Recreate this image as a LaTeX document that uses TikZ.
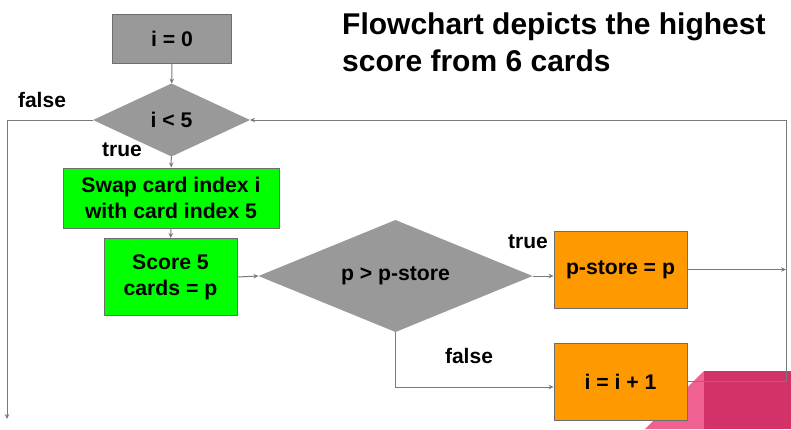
\documentclass[tikz,border=0pt]{standalone}
\usepackage{fontspec}
\setmainfont{Liberation Sans}
\usetikzlibrary{shapes.geometric,arrows.meta}
\definecolor{boxgray}{HTML}{999999}
\definecolor{boxgreen}{HTML}{00FF00}
\definecolor{boxorange}{HTML}{FF9900}
\definecolor{edgegray}{HTML}{6E6E6E}
\definecolor{linegray}{HTML}{7A7A7A}
\definecolor{pinkdark}{HTML}{D13369}
\definecolor{pinklight}{HTML}{EF6191}
\tikzset{
  boxbase/.style={draw=edgegray, line width=0.9pt, inner sep=0pt, font=\fontsize{21.2}{26}\selectfont\bfseries, align=center},
  procbox/.style={boxbase, rectangle},
  decbox/.style={boxbase, diamond, fill=boxgray, draw=none, outer sep=0pt},
  conn/.style={draw=linegray, line width=1pt},
  arr/.style={conn, -{Stealth[length=5pt,width=4.5pt]}},
  lbl/.style={font=\fontsize{21}{24}\selectfont\bfseries, inner sep=0pt}
}
\begin{document}
\begin{tikzpicture}[x=1pt,y=-1pt]
\useasboundingbox (0,0) rectangle (791,429);
% decorative corner
\fill[pinklight] (645,429) -- (704,371) -- (704,429) -- cycle;
\fill[pinkdark] (704,371) rectangle (791,429);
% title
\node[anchor=north west, align=left, inner sep=0pt, font=\fontsize{30}{37}\selectfont\bfseries] (title) at (342,13) {Flowchart depicts the highest\\score from 6 cards};
% nodes
\node[procbox, fill=boxgray, minimum width=119pt, minimum height=49pt] (init) at (172,38.5) {i = 0};
\node[decbox, aspect=2.15, minimum width=157pt, minimum height=73pt] (cond) at (171.5,120) {i < 5};
\node[procbox, fill=boxgreen, minimum width=216pt, minimum height=60pt] (swap) at (171,198) {Swap card index i\\with card index 5};
\node[procbox, fill=boxgreen, minimum width=133pt, minimum height=77pt] (score) at (170.5,277) {Score 5\\cards = p};
\node[decbox, aspect=2.45, minimum width=274pt, minimum height=112pt] (cmp) at (395.5,276) {p > p-store};
\node[procbox, fill=boxorange, minimum width=133pt, minimum height=77pt] (store) at (620.5,269.5) {p-store = p};
\node[procbox, fill=boxorange, minimum width=133pt, minimum height=77pt] (inc) at (620.5,381.5) {i = i + 1};
% helper coordinates
\coordinate (fend) at (7,419);
\coordinate (rtop) at (786,120);
\coordinate (fj) at (395.5,387);
% connectors
\draw[arr] (init) -- (cond);
\draw[arr] (cond.west) -| (fend);
\draw[arr] (cond) -- (swap);
\draw[arr] (swap) -- (score);
\draw[arr] (score.east) -- (cmp.west);
\draw[arr] (cmp.east) -- (cmp.east -| store.west);
\draw[arr] (store.east) -- (store.east -| rtop);
\draw[arr] (cmp.south) -- (fj) -- (fj -| inc.west);
\draw[arr] (inc.east) -| (rtop) -- (cond.east);
% labels
\node[lbl] (lf1) at (42,100) {false};
\node[lbl] (lt1) at (122,150) {true};
\node[lbl] (lt2) at (528,242) {true};
\node[lbl] (lf2) at (469,356) {false};
\end{tikzpicture}
\end{document}
